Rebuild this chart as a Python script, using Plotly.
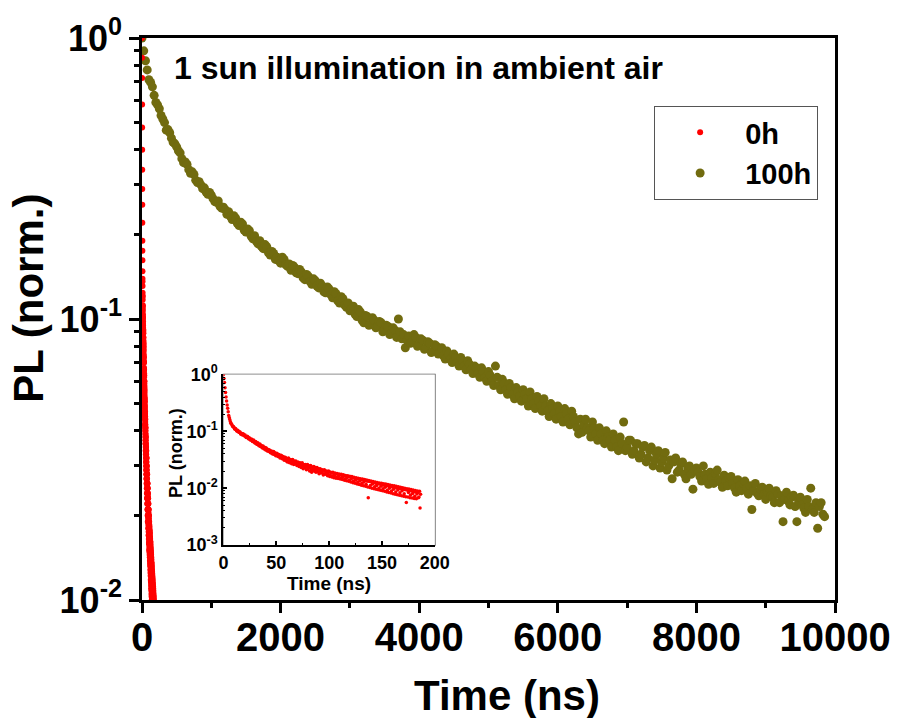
import plotly.graph_objects as go

# ---------------- data ----------------
time_0h = [
    0, 0.5, 1, 1.5, 2, 2.5, 3, 3.5, 4, 4.5,
    5, 5.5, 6, 6.5, 7, 7.5, 8, 8.5, 9, 9.5,
    10, 10.5, 11, 11.5, 12, 12.5, 13, 13.5, 14, 14.5,
    15, 15.5, 16, 16.5, 17, 17.5, 18, 18.5, 19, 19.5,
    20, 20.5, 21, 21.5, 22, 22.5, 23, 23.5, 24, 24.5,
    25, 25.5, 26, 26.5, 27, 27.5, 28, 28.5, 29, 29.5,
    30, 30.5, 31, 31.5, 32, 32.5, 33, 33.5, 34, 34.5,
    35, 35.5, 36, 36.5, 37, 37.5, 38, 38.5, 39, 39.5,
    40, 40.5, 41, 41.5, 42, 42.5, 43, 43.5, 44, 44.5,
    45, 45.5, 46, 46.5, 47, 47.5, 48, 48.5, 49, 49.5,
    50, 50.5, 51, 51.5, 52, 52.5, 53, 53.5, 54, 54.5,
    55, 55.5, 56, 56.5, 57, 57.5, 58, 58.5, 59, 59.5,
    60, 60.5, 61, 61.5, 62, 62.5, 63, 63.5, 64, 64.5,
    65, 65.5, 66, 66.5, 67, 67.5, 68, 68.5, 69, 69.5,
    70, 70.5, 71, 71.5, 72, 72.5, 73, 73.5, 74, 74.5,
    75, 75.5, 76, 76.5, 77, 77.5, 78, 78.5, 79, 79.5,
    80, 80.5, 81, 81.5, 82, 82.5, 83, 83.5, 84, 84.5,
    85, 85.5, 86, 86.5, 87, 87.5, 88, 88.5, 89, 89.5,
    90, 90.5, 91, 91.5, 92, 92.5, 93, 93.5, 94, 94.5,
    95, 95.5, 96, 96.5, 97, 97.5, 98, 98.5, 99, 99.5,
    100, 100.5, 101, 101.5, 102, 102.5, 103, 103.5, 104, 104.5,
    105, 105.5, 106, 106.5, 107, 107.5, 108, 108.5, 109, 109.5,
    110, 110.5, 111, 111.5, 112, 112.5, 113, 113.5, 114, 114.5,
    115, 115.5, 116, 116.5, 117, 117.5, 118, 118.5, 119, 119.5,
    120, 120.5, 121, 121.5, 122, 122.5, 123, 123.5, 124, 124.5,
    125, 125.5, 126, 126.5, 127, 127.5, 128, 128.5, 129, 129.5,
    130, 130.5, 131, 131.5, 132, 132.5, 133, 133.5, 134, 134.5,
    135, 135.5, 136, 136.5, 137, 137.5, 138, 138.5, 139, 139.5,
    140, 140.5, 141, 141.5, 142, 142.5, 143, 143.5, 144, 144.5,
    145, 145.5, 146, 146.5, 147, 147.5, 148, 148.5, 149, 149.5,
    150, 150.5, 151, 151.5, 152, 152.5, 153, 153.5, 154, 154.5,
    155, 155.5, 156, 156.5, 157, 157.5, 158, 158.5, 159, 159.5,
    160, 160.5, 161, 161.5, 162, 162.5, 163, 163.5, 164, 164.5,
    165, 165.5, 166, 166.5, 167, 167.5, 168, 168.5, 169, 169.5,
    170, 170.5, 171, 171.5, 172, 172.5, 173, 173.5, 174, 174.5,
    175, 175.5, 176, 176.5, 177, 177.5, 178, 178.5, 179, 179.5,
    180, 180.5, 181, 181.5, 182, 182.5, 183, 183.5, 184, 184.5,
    185, 185.5, 186, 186.5,
]
pl_0h = [
    1.0, 0.85, 0.72, 0.58, 0.48, 0.40, 0.34, 0.29, 0.255, 0.22,
    0.19, 0.175, 0.162, 0.148, 0.139, 0.136, 0.131, 0.124, 0.12, 0.121,
    0.117, 0.111, 0.109, 0.112, 0.107, 0.102, 0.100, 0.104, 0.101, 0.096,
    0.095, 0.098, 0.093, 0.089, 0.092, 0.090, 0.086, 0.091, 0.089, 0.084,
    0.083, 0.086, 0.081, 0.078, 0.079, 0.082, 0.080, 0.075, 0.073, 0.077,
    0.074, 0.070, 0.070, 0.073, 0.071, 0.066, 0.066, 0.070, 0.067, 0.063,
    0.062, 0.066, 0.064, 0.059, 0.059, 0.063, 0.060, 0.056, 0.058, 0.060,
    0.054, 0.057, 0.056, 0.052, 0.051, 0.055, 0.053, 0.049, 0.050, 0.052,
    0.047, 0.051, 0.049, 0.045, 0.046, 0.048, 0.044, 0.047, 0.046, 0.042,
    0.042, 0.045, 0.043, 0.040, 0.041, 0.044, 0.039, 0.042, 0.041, 0.037,
    0.038, 0.041, 0.040, 0.036, 0.036, 0.039, 0.038, 0.034, 0.035, 0.038,
    0.037, 0.033, 0.034, 0.036, 0.035, 0.031, 0.032, 0.035, 0.034, 0.030,
    0.033, 0.029, 0.031, 0.034, 0.032, 0.028, 0.029, 0.032, 0.031, 0.027,
    0.030, 0.032, 0.028, 0.026, 0.030, 0.027, 0.027, 0.030, 0.028, 0.025,
    0.026, 0.029, 0.028, 0.024, 0.025, 0.028, 0.027, 0.023, 0.026, 0.028,
    0.024, 0.022, 0.026, 0.023, 0.023, 0.026, 0.025, 0.021, 0.024, 0.026,
    0.022, 0.025, 0.024, 0.020, 0.023, 0.025, 0.021, 0.019, 0.0235, 0.021,
    0.022, 0.024, 0.020, 0.022, 0.023, 0.019, 0.021, 0.023, 0.0195, 0.022,
    0.022, 0.018, 0.020, 0.022, 0.021, 0.0185, 0.019, 0.021, 0.0205, 0.017,
    0.018, 0.021, 0.020, 0.0175, 0.0185, 0.020, 0.019, 0.0165, 0.0175, 0.020,
    0.0195, 0.016, 0.017, 0.019, 0.0185, 0.0158, 0.016, 0.019, 0.0182, 0.0152,
    0.0168, 0.0185, 0.0178, 0.015, 0.0155, 0.0182, 0.0175, 0.0148, 0.0162, 0.0178,
    0.0172, 0.0145, 0.0150, 0.0175, 0.0168, 0.0142, 0.0158, 0.0172, 0.0166, 0.0138,
    0.0145, 0.0168, 0.0162, 0.0135, 0.0152, 0.0165, 0.0160, 0.0132, 0.0138, 0.0162,
    0.0158, 0.0128, 0.0146, 0.0160, 0.0153, 0.0125, 0.0132, 0.0156, 0.0150, 0.0122,
    0.0140, 0.0153, 0.0147, 0.0118, 0.0128, 0.0150, 0.0146, 0.0116, 0.0134, 0.0147,
    0.0141, 0.0113, 0.0122, 0.0145, 0.0140, 0.0110, 0.0128, 0.0142, 0.0136, 0.0108,
    0.0116, 0.0139, 0.0133, 0.0105, 0.0068, 0.0136, 0.0131, 0.0103, 0.0112, 0.0134,
    0.0128, 0.0100, 0.0118, 0.0131, 0.0125, 0.0098, 0.0106, 0.0128, 0.0122, 0.0096,
    0.0112, 0.0126, 0.0120, 0.0094, 0.0100, 0.0124, 0.0118, 0.0092, 0.0108, 0.0122,
    0.0115, 0.0090, 0.0098, 0.0120, 0.0113, 0.0088, 0.0104, 0.0118, 0.0110, 0.0086,
    0.0092, 0.0116, 0.0109, 0.0084, 0.0100, 0.0114, 0.0106, 0.0082, 0.0089, 0.0112,
    0.0105, 0.0080, 0.0096, 0.0110, 0.0103, 0.0078, 0.0086, 0.0108, 0.0101, 0.0077,
    0.0093, 0.0106, 0.0099, 0.0075, 0.0083, 0.0104, 0.0098, 0.0074, 0.0090, 0.0102,
    0.0096, 0.0072, 0.0080, 0.0100, 0.0094, 0.0071, 0.0056, 0.0098, 0.0092, 0.0070,
    0.0084, 0.0097, 0.0090, 0.0068, 0.0076, 0.0095, 0.0089, 0.0067, 0.0081, 0.0093,
    0.0087, 0.0066, 0.0072, 0.0091, 0.0086, 0.0065, 0.0079, 0.0089, 0.0084, 0.0068,
    0.0070, 0.0088, 0.0045, 0.0078,
]

time_100h = [
    0, 25, 50, 75, 100, 125, 150, 175,
    200, 225, 250, 275, 300, 325, 350, 375,
    400, 425, 450, 475, 500, 525, 550, 575,
    600, 625, 650, 675, 700, 725, 750, 775,
    800, 825, 850, 875, 900, 925, 950, 975,
    1000, 1025, 1050, 1075, 1100, 1125, 1150, 1175,
    1200, 1225, 1250, 1275, 1300, 1325, 1350, 1375,
    1400, 1425, 1450, 1475, 1500, 1525, 1550, 1575,
    1600, 1625, 1650, 1675, 1700, 1725, 1750, 1775,
    1800, 1825, 1850, 1875, 1900, 1925, 1950, 1975,
    2000, 2025, 2050, 2075, 2100, 2125, 2150, 2175,
    2200, 2225, 2250, 2275, 2300, 2325, 2350, 2375,
    2400, 2425, 2450, 2475, 2500, 2525, 2550, 2575,
    2600, 2625, 2650, 2675, 2700, 2725, 2750, 2775,
    2800, 2825, 2850, 2875, 2900, 2925, 2950, 2975,
    3000, 3025, 3050, 3075, 3100, 3125, 3150, 3175,
    3200, 3225, 3250, 3275, 3300, 3325, 3350, 3375,
    3400, 3425, 3450, 3475, 3500, 3525, 3550, 3575,
    3600, 3625, 3650, 3675, 3700, 3725, 3750, 3775,
    3800, 3825, 3850, 3875, 3900, 3925, 3950, 3975,
    4000, 4025, 4050, 4075, 4100, 4125, 4150, 4175,
    4200, 4225, 4250, 4275, 4300, 4325, 4350, 4375,
    4400, 4425, 4450, 4475, 4500, 4525, 4550, 4575,
    4600, 4625, 4650, 4675, 4700, 4725, 4750, 4775,
    4800, 4825, 4850, 4875, 4900, 4925, 4950, 4975,
    5000, 5025, 5050, 5075, 5100, 5125, 5150, 5175,
    5200, 5225, 5250, 5275, 5300, 5325, 5350, 5375,
    5400, 5425, 5450, 5475, 5500, 5525, 5550, 5575,
    5600, 5625, 5650, 5675, 5700, 5725, 5750, 5775,
    5800, 5825, 5850, 5875, 5900, 5925, 5950, 5975,
    6000, 6025, 6050, 6075, 6100, 6125, 6150, 6175,
    6200, 6225, 6250, 6275, 6300, 6325, 6350, 6375,
    6400, 6425, 6450, 6475, 6500, 6525, 6550, 6575,
    6600, 6625, 6650, 6675, 6700, 6725, 6750, 6775,
    6800, 6825, 6850, 6875, 6900, 6925, 6950, 6975,
    7000, 7025, 7050, 7075, 7100, 7125, 7150, 7175,
    7200, 7225, 7250, 7275, 7300, 7325, 7350, 7375,
    7400, 7425, 7450, 7475, 7500, 7525, 7550, 7575,
    7600, 7625, 7650, 7675, 7700, 7725, 7750, 7775,
    7800, 7825, 7850, 7875, 7900, 7925, 7950, 7975,
    8000, 8025, 8050, 8075, 8100, 8125, 8150, 8175,
    8200, 8225, 8250, 8275, 8300, 8325, 8350, 8375,
    8400, 8425, 8450, 8475, 8500, 8525, 8550, 8575,
    8600, 8625, 8650, 8675, 8700, 8725, 8750, 8775,
    8800, 8825, 8850, 8875, 8900, 8925, 8950, 8975,
    9000, 9025, 9050, 9075, 9100, 9125, 9150, 9175,
    9200, 9225, 9250, 9275, 9300, 9325, 9350, 9375,
    9400, 9425, 9450, 9475, 9500, 9525, 9550, 9575,
    9600, 9625, 9650, 9675, 9700, 9725, 9750, 9775,
    9800, 9825, 9850,
]
pl_100h = [
    1.0, 0.90, 0.83, 0.77, 0.71, 0.695, 0.67, 0.625,
    0.59, 0.578, 0.56, 0.53, 0.515, 0.50, 0.47, 0.472,
    0.46, 0.44, 0.425, 0.42, 0.41, 0.397, 0.39, 0.372,
    0.36, 0.362, 0.355, 0.34, 0.33, 0.334, 0.327, 0.312,
    0.306, 0.308, 0.30, 0.291, 0.293, 0.283, 0.278, 0.282,
    0.276, 0.268, 0.262, 0.26, 0.263, 0.252, 0.248, 0.25,
    0.245, 0.236, 0.241, 0.232, 0.226, 0.233, 0.229, 0.219,
    0.215, 0.221, 0.218, 0.207, 0.204, 0.209, 0.206, 0.197,
    0.193, 0.198, 0.189, 0.185, 0.19, 0.181, 0.178, 0.184,
    0.181, 0.172, 0.169, 0.174, 0.171, 0.163, 0.166, 0.161,
    0.158, 0.166, 0.163, 0.156, 0.154, 0.157, 0.149, 0.155,
    0.153, 0.146, 0.145, 0.150, 0.147, 0.140, 0.138, 0.144,
    0.142, 0.136, 0.133, 0.139, 0.137, 0.131, 0.129, 0.134,
    0.131, 0.125, 0.124, 0.130, 0.128, 0.122, 0.119, 0.125,
    0.123, 0.116, 0.114, 0.120, 0.118, 0.112, 0.11, 0.114,
    0.107, 0.109, 0.111, 0.104, 0.102, 0.108, 0.106, 0.099,
    0.097, 0.103, 0.102, 0.095, 0.096, 0.101, 0.099, 0.093,
    0.094, 0.098, 0.097, 0.090, 0.091, 0.095, 0.094, 0.088,
    0.089, 0.093, 0.091, 0.086, 0.100, 0.090, 0.085, 0.088,
    0.079, 0.084, 0.087, 0.082, 0.083, 0.088, 0.086, 0.080,
    0.081, 0.085, 0.084, 0.078, 0.079, 0.083, 0.082, 0.076,
    0.077, 0.081, 0.080, 0.075, 0.076, 0.079, 0.074, 0.072,
    0.077, 0.075, 0.072, 0.070, 0.075, 0.073, 0.070, 0.068,
    0.073, 0.071, 0.068, 0.066, 0.071, 0.069, 0.066, 0.064,
    0.068, 0.067, 0.064, 0.062, 0.067, 0.065, 0.062, 0.060,
    0.065, 0.063, 0.060, 0.058, 0.068, 0.062, 0.058, 0.056,
    0.061, 0.059, 0.056, 0.054, 0.059, 0.057, 0.054, 0.052,
    0.057, 0.055, 0.053, 0.051, 0.056, 0.054, 0.052, 0.049,
    0.055, 0.052, 0.050, 0.048, 0.053, 0.051, 0.049, 0.047,
    0.052, 0.049, 0.047, 0.045, 0.050, 0.048, 0.046, 0.044,
    0.049, 0.047, 0.045, 0.043, 0.048, 0.046, 0.044, 0.042,
    0.047, 0.045, 0.043, 0.041, 0.039, 0.044, 0.0395, 0.042,
    0.044, 0.041, 0.040, 0.038, 0.043, 0.041, 0.039, 0.037,
    0.041, 0.039, 0.037, 0.036, 0.040, 0.038, 0.037, 0.035,
    0.039, 0.037, 0.035, 0.034, 0.038, 0.036, 0.043, 0.034,
    0.035, 0.037, 0.037, 0.033, 0.034, 0.036, 0.036, 0.032,
    0.033, 0.035, 0.0355, 0.031, 0.032, 0.034, 0.035, 0.030,
    0.0315, 0.033, 0.034, 0.0295, 0.031, 0.032, 0.0335, 0.029,
    0.030, 0.0315, 0.027, 0.031, 0.032, 0.0285, 0.029, 0.0305,
    0.031, 0.028, 0.027, 0.0295, 0.030, 0.028, 0.0248, 0.029,
    0.0295, 0.0285, 0.0275, 0.0265, 0.030, 0.028, 0.027, 0.0258,
    0.0285, 0.0272, 0.026, 0.0282, 0.029, 0.0268, 0.0262, 0.0252,
    0.0278, 0.0265, 0.0255, 0.0272, 0.0275, 0.026, 0.025, 0.0242,
    0.0268, 0.0255, 0.0245, 0.026, 0.0265, 0.025, 0.0238, 0.0255,
    0.021, 0.0245, 0.026, 0.024, 0.0235, 0.0248, 0.0252, 0.0238,
    0.0228, 0.0242, 0.025, 0.0235, 0.0232, 0.0222, 0.0245, 0.0238,
    0.0222, 0.0235, 0.019, 0.0228, 0.0242, 0.0225, 0.0218, 0.0232,
    0.0236, 0.0215, 0.019, 0.0225, 0.0232, 0.0218, 0.0212, 0.0205,
    0.0228, 0.0215, 0.025, 0.021, 0.0205, 0.0222, 0.018, 0.0215,
    0.0222, 0.0202, 0.0198,
]

x_ticks_main = [0, 2000, 4000, 6000, 8000, 10000]
x_ticktext_main = ["0", "2000", "4000", "6000", "8000", "10000"]
x_minor_main = [1000, 3000, 5000, 7000, 9000]
y_ticks_main = [0.01, 0.1, 1]
y_ticktext_main = ["10<sup>-2</sup>", "10<sup>-1</sup>", "10<sup>0</sup>"]
y_minor_main = [0.02, 0.03, 0.04, 0.05, 0.06, 0.07, 0.08, 0.09,
                0.2, 0.3, 0.4, 0.5, 0.6, 0.7, 0.8, 0.9]
x_ticks_inset = [0, 50, 100, 150, 200]
x_minor_inset = [25, 75, 125, 175]
y_ticks_inset = [0.001, 0.01, 0.1, 1]
y_ticktext_inset = ["10<sup>-3</sup>", "10<sup>-2</sup>", "10<sup>-1</sup>", "10<sup>0</sup>"]
y_minor_inset = [0.002, 0.003, 0.004, 0.005, 0.006, 0.007, 0.008, 0.009,
                 0.02, 0.03, 0.04, 0.05, 0.06, 0.07, 0.08, 0.09,
                 0.2, 0.3, 0.4, 0.5, 0.6, 0.7, 0.8, 0.9]

series_names = ["0h", "100h"]
RED = "#FF0000"
OLIVE = "#716B0F"
FONT = "Arial, Liberation Sans, Helvetica, sans-serif"

# ---------------- figure ----------------
fig = go.Figure()
fig.add_trace(go.Scatter(
    x=time_100h, y=pl_100h, mode="markers", name=series_names[1],
    marker=dict(color=OLIVE, size=9), legendrank=2,
))
fig.add_trace(go.Scatter(
    x=time_0h, y=pl_0h, mode="markers", name=series_names[0],
    marker=dict(color=RED, size=6), legendrank=1,
))
fig.add_trace(go.Scatter(
    x=time_0h, y=pl_0h, mode="markers", showlegend=False,
    xaxis="x2", yaxis="y2",
    marker=dict(color=RED, size=3.5),
))

axis_common = dict(
    showline=True, linecolor="black", linewidth=2.5, mirror=True,
    ticks="outside", tickcolor="black", tickwidth=2.5, ticklen=10,
    showgrid=False, zeroline=False,
)
inset_common = dict(
    showline=True, linecolor="black", linewidth=2, mirror=False,
    ticks="inside", ticklen=4, tickwidth=1.5, tickcolor="black",
    showgrid=False, zeroline=False,
)

fig.update_layout(
    width=903, height=718,
    margin=dict(l=142, r=63, t=37, b=118),
    paper_bgcolor="white", plot_bgcolor="white",
    font=dict(family=FONT, color="black"),
    xaxis=dict(
        **axis_common,
        range=[0, 10000], tickmode="array", tickvals=x_ticks_main,
        ticktext=x_ticktext_main, ticklabelstandoff=-10,
        tickfont=dict(size=40, weight="bold", family=FONT),
        minor=dict(tickmode="array", tickvals=x_minor_main, ticks="outside",
                   ticklen=5, tickwidth=2.5, tickcolor="black", showgrid=False),
    ),
    yaxis=dict(
        **axis_common,
        type="log", range=[-2, 0], tickmode="array",
        tickvals=y_ticks_main, ticktext=y_ticktext_main,
        tickfont=dict(size=36, weight="bold", family=FONT),
        minor=dict(tickmode="array", tickvals=y_minor_main, ticks="outside",
                   ticklen=5, tickwidth=2.5, tickcolor="black", showgrid=False),
    ),
    xaxis2=dict(
        **inset_common,
        domain=[0.1175, 0.4226], anchor="y2",
        range=[0, 200], tickmode="array", tickvals=x_ticks_inset,
        tickfont=dict(size=18, weight="bold", family=FONT),
        minor=dict(tickmode="array", tickvals=x_minor_inset, ticks="inside",
                   ticklen=2, tickwidth=1.2, tickcolor="black", showgrid=False),
    ),
    yaxis2=dict(
        **inset_common,
        domain=[0.0977, 0.4014], anchor="x2",
        type="log", range=[-3, 0], tickmode="array",
        tickvals=y_ticks_inset, ticktext=y_ticktext_inset,
        tickfont=dict(size=18, weight="bold", family=FONT),
        minor=dict(tickmode="array", tickvals=y_minor_inset, ticks="inside",
                   ticklen=2, tickwidth=1.2, tickcolor="black", showgrid=False),
    ),
    legend=dict(
        x=0.739, y=0.879, xanchor="left", yanchor="top",
        bgcolor="white", bordercolor="#555555", borderwidth=1,
        font=dict(size=29, weight="bold", family=FONT),
        itemwidth=80,
    ),
    shapes=[
        dict(type="rect", xref="x2 domain", yref="y2 domain",
             x0=0, x1=1, y0=0, y1=1, line=dict(color="#555555", width=1.5),
             layer="below"),
    ],
    annotations=[
        dict(text="<b>1 sun illumination in ambient air</b>", xref="paper", yref="paper",
             x=0.399, y=0.9467, xanchor="center", yanchor="middle", showarrow=False,
             font=dict(size=32, family=FONT)),
        dict(text="<b>Time (ns)</b>", xref="paper", yref="paper",
             x=0.526, y=-0.1705, xanchor="center", yanchor="middle", showarrow=False,
             font=dict(size=42, family=FONT)),
        dict(text="<b>PL (norm.)</b>", xref="paper", yref="paper",
             x=-0.163, y=0.536, xanchor="center", yanchor="middle", showarrow=False,
             textangle=-90, font=dict(size=42, family=FONT)),
        dict(text="<b>Time (ns)</b>", xref="paper", yref="paper",
             x=0.2701, y=0.030, xanchor="center", yanchor="middle", showarrow=False,
             font=dict(size=19, family=FONT)),
        dict(text="<b>PL (norm.)</b>", xref="paper", yref="paper",
             x=0.050, y=0.261, xanchor="center", yanchor="middle", showarrow=False,
             textangle=-90, font=dict(size=18, family=FONT)),
    ],
)

fig.write_html("out.html", config={"displayModeBar": False},
               post_script="document.body.style.margin='0px';")
